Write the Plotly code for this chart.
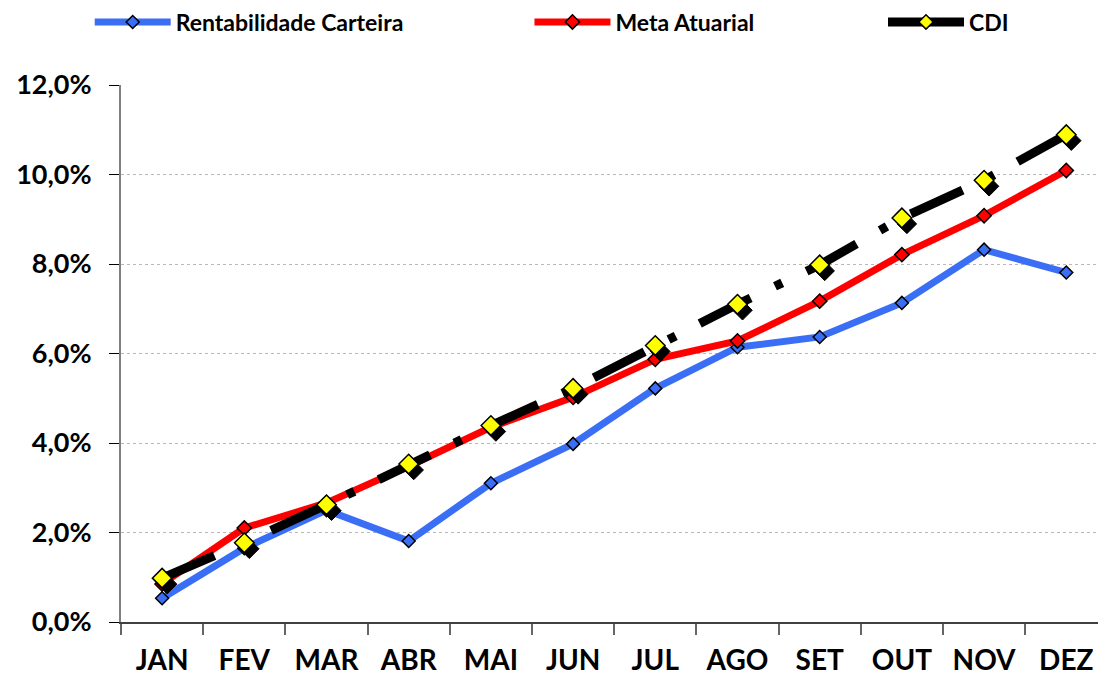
import plotly.graph_objects as go

# Monthly accumulated returns (%)
months = ["JAN", "FEV", "MAR", "ABR", "MAI", "JUN", "JUL", "AGO", "SET", "OUT", "NOV", "DEZ"]
rentabilidade = [0.53, 1.65, 2.50, 1.81, 3.10, 3.98, 5.22, 6.14, 6.37, 7.13, 8.32, 7.81]
meta_atuarial = [0.85, 2.10, 2.66, 3.48, 4.35, 5.02, 5.87, 6.28, 7.17, 8.21, 9.08, 10.09]
cdi = [0.98, 1.77, 2.62, 3.53, 4.39, 5.22, 6.18, 7.10, 7.98, 9.03, 9.87, 10.89]
y_ticks = [0, 2, 4, 6, 8, 10, 12]
y_tick_labels = [f"{v:.1f}%".replace(".", ",") for v in y_ticks]

FONT = "Lato"
X_RANGE = [-0.5, 11.386]
Y_RANGE = [0, 12]
# small pixel offset for the marker drop shadow (expressed in axis units)
SHX = 0.061
SHY = 0.134

fig = go.Figure()

fig.add_trace(go.Scatter(
    x=months, y=rentabilidade, name="Rentabilidade Carteira", mode="lines+markers",
    line=dict(color="#3A6EF5", width=7),
    marker=dict(symbol="diamond", size=10, color="#3A6EF5", line=dict(color="black", width=1.5)),
    legend="legend", xaxis="x", yaxis="y",
))
fig.add_trace(go.Scatter(
    x=months, y=meta_atuarial, name="Meta Atuarial", mode="lines+markers",
    line=dict(color="#FF0000", width=7),
    marker=dict(symbol="diamond", size=11, color="#FF0000", line=dict(color="black", width=1.5)),
    legend="legend2", xaxis="x", yaxis="y",
))
# shadow under the CDI markers
fig.add_trace(go.Scatter(
    x=months, y=cdi, mode="markers", showlegend=False, hoverinfo="skip",
    marker=dict(symbol="diamond", size=15, color="black", line=dict(color="black", width=1)),
    xaxis="x2", yaxis="y2",
))
fig.add_trace(go.Scatter(
    x=months, y=cdi, name="CDI", mode="lines+markers", showlegend=False,
    line=dict(color="black", width=9, dash="57px,27px,8px,27px"),
    marker=dict(symbol="diamond", size=15, color="#FFFF00", line=dict(color="black", width=1.5)),
    xaxis="x3", yaxis="y3",
))
# legend entry for CDI with a solid sample line
fig.add_trace(go.Scatter(
    x=[None], y=[None], name="CDI", mode="lines+markers",
    line=dict(color="black", width=9),
    marker=dict(symbol="diamond", size=11, color="#FFFF00", line=dict(color="black", width=1.5)),
    legend="legend3", xaxis="x3", yaxis="y3", hoverinfo="skip",
))

legend_common = dict(
    orientation="h", yanchor="middle", xanchor="left", y=0.9676,
    yref="container", xref="container",
    font=dict(family=FONT, size=23, color="black", weight="bold"),
    bgcolor="rgba(0,0,0,0)", itemwidth=76, itemclick=False,
)

fig.update_layout(
    width=1098, height=680,
    margin=dict(l=121, r=0, t=84.5, b=58, autoexpand=False),
    paper_bgcolor="white", plot_bgcolor="white",
    font=dict(family=FONT, color="black"),
    xaxis=dict(
        type="category", categoryorder="array", categoryarray=months,
        range=X_RANGE, showgrid=False, tickson="boundaries",
        ticks="outside", ticklen=11, tickcolor="#666666", tickwidth=1.5,
        showline=True, linecolor="#404040", linewidth=1.5,
        tickfont=dict(family=FONT, size=28, color="black", weight="bold"),
        ticklabelstandoff=13, zeroline=False, automargin=False,
    ),
    yaxis=dict(
        range=Y_RANGE, tickvals=y_ticks, ticktext=y_tick_labels,
        showgrid=True, gridcolor="#B8B8B8", griddash="dot", gridwidth=1,
        ticks="outside", ticklen=10, tickcolor="black", tickwidth=1,
        showline=True, linecolor="#808080", linewidth=2,
        tickfont=dict(family=FONT, size=27, color="black", weight="bold"),
        ticklabelstandoff=12, zeroline=False, automargin=False,
    ),
    xaxis2=dict(type="category", categoryorder="array", categoryarray=months,
                range=[X_RANGE[0] - SHX, X_RANGE[1] - SHX], overlaying="x", visible=False),
    yaxis2=dict(range=[Y_RANGE[0] + SHY, Y_RANGE[1] + SHY], overlaying="y", visible=False),
    xaxis3=dict(type="category", categoryorder="array", categoryarray=months,
                range=X_RANGE, overlaying="x", visible=False),
    yaxis3=dict(range=Y_RANGE, overlaying="y", visible=False),
    legend=dict(legend_common, x=0.0817),
    legend2=dict(legend_common, x=0.4822),
    legend3=dict(legend_common, x=0.8042),
    showlegend=True,
)

fig.write_html("out.html")
